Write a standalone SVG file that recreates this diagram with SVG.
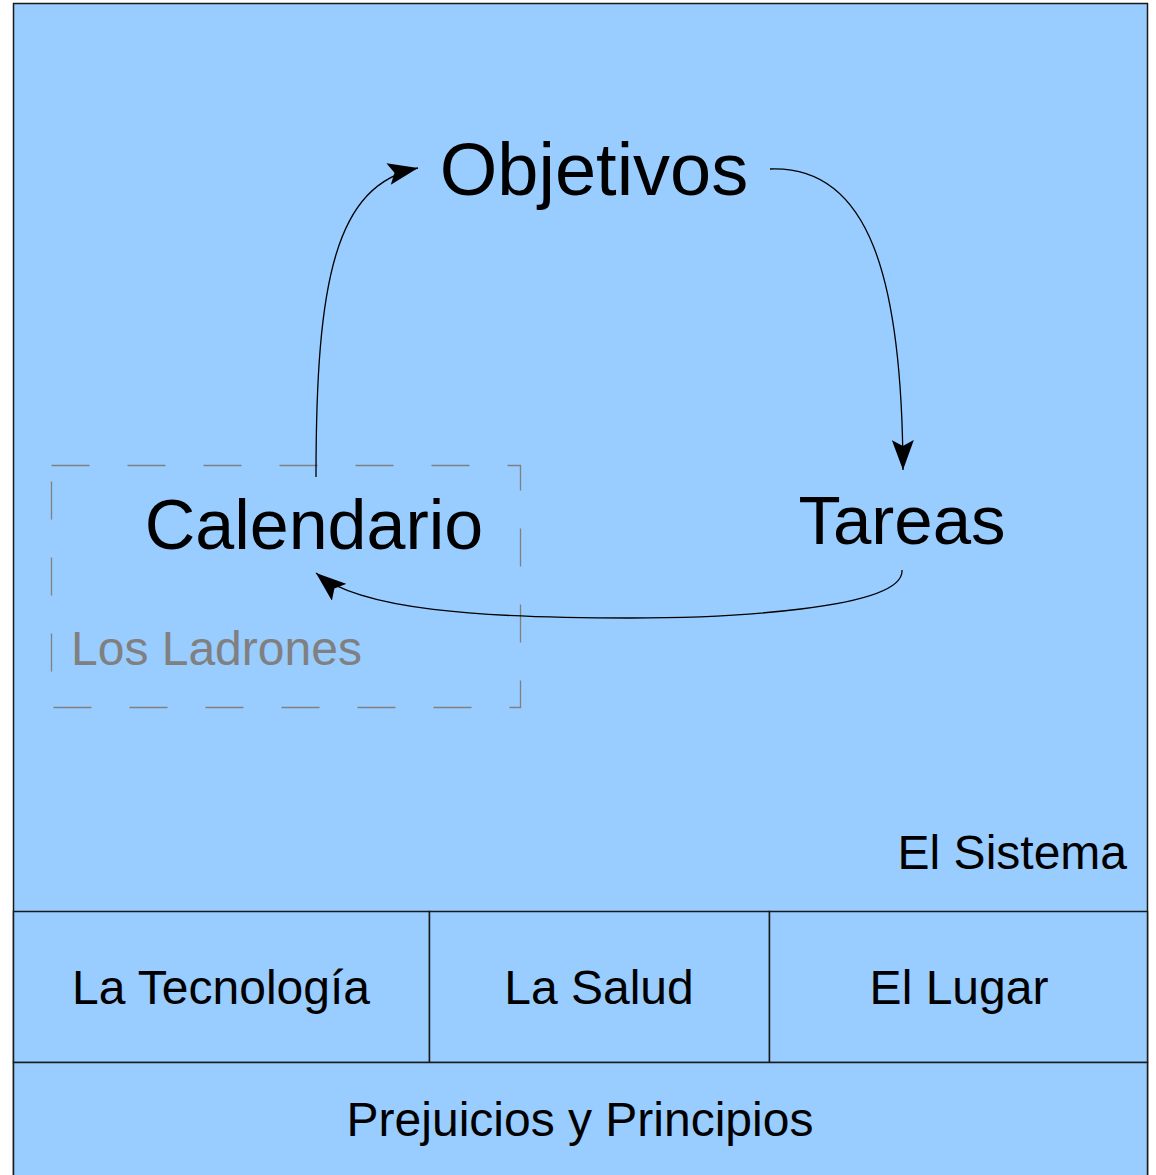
<svg xmlns="http://www.w3.org/2000/svg" width="1156" height="1175" viewBox="0 0 1156 1175">
<style>
.box{fill:#99ccff;stroke:#1a1a1a;stroke-width:1.5}
.t{font-family:"Liberation Sans",Arial,sans-serif;fill:#000;text-anchor:middle}
.big{font-size:70px}
.mid{font-size:48px}
.conn{fill:none;stroke:#000;stroke-width:1.3}
</style>
<defs>
<marker id="ah" markerUnits="userSpaceOnUse" viewBox="0 0 30 22" refX="30" refY="11" markerWidth="30" markerHeight="22" orient="auto">
<path d="M0,0 L30,11 L0,22 L6,11 z" fill="#000"/>
</marker>
</defs>
<g id="sistema">
<rect class="box" x="13.5" y="3.5" width="1134" height="1190"/>
<text class="t mid" x="1127" y="869" style="text-anchor:end">El Sistema</text>
</g>
<g id="tecnologia">
<rect class="box" x="13.5" y="911.5" width="416" height="151"/>
<text class="t mid" x="221" y="1004">La Tecnología</text>
</g>
<g id="salud">
<rect class="box" x="429.5" y="911.5" width="340" height="151"/>
<text class="t mid" x="599" y="1004">La Salud</text>
</g>
<g id="lugar">
<rect class="box" x="769.5" y="911.5" width="378" height="151"/>
<text class="t mid" x="959" y="1004">El Lugar</text>
</g>
<g id="prejuicios">
<rect class="box" x="13.5" y="1062.5" width="1134" height="130"/>
<text class="t mid" x="580" y="1136">Prejuicios y Principios</text>
</g>
<g id="ladrones">
<rect x="51.5" y="465.5" width="469" height="242" fill="none" stroke="#808080" stroke-width="1.3" stroke-dasharray="38 38"/>
<text class="t mid" x="71" y="665" style="text-anchor:start;fill:#808080">Los Ladrones</text>
</g>
<g id="objetivos">
<text class="t" x="594" y="195" font-size="74">Objetivos</text>
</g>
<g id="calendario">
<text class="t big" x="314" y="549">Calendario</text>
</g>
<g id="tareas">
<text class="t" x="902" y="544" font-size="69">Tareas</text>
</g>
<g id="connectors">
<path class="conn" d="M316,477 C316,280 335,185 418,168" marker-end="url(#ah)"/>
<path class="conn" d="M770,169 C870,165 902,280 903,470" marker-end="url(#ah)"/>
<path class="conn" d="M902,570 C905,610 720,618 630,618 C480,618 360,610 316,573" marker-end="url(#ah)"/>
</g>
</svg>
